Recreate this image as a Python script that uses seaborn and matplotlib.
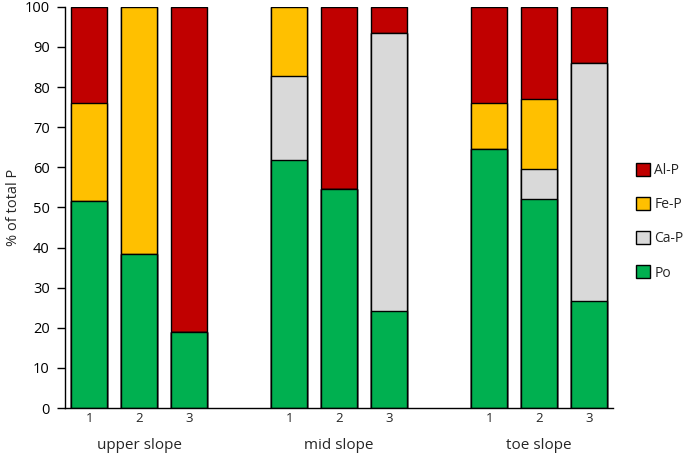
import matplotlib
matplotlib.use("Agg")
import matplotlib.pyplot as plt
from matplotlib.patches import Patch
import seaborn as sns
import pandas as pd
import numpy as np

FONT_SIZE = 10.5

groups = ["upper slope", "mid slope", "toe slope"]
profiles = ["1", "2", "3"]
po = [51.6, 38.5, 19.0, 61.8, 54.5, 24.1, 64.5, 52.2, 26.8]
ca_p = [0.0, 0.0, 0.0, 21.0, 0.0, 69.5, 0.0, 7.3, 59.3]
fe_p = [24.4, 61.5, 0.0, 17.2, 0.0, 0.0, 11.5, 17.6, 0.0]
al_p = [24.0, 0.0, 81.0, 0.0, 45.5, 6.4, 24.0, 22.9, 13.9]

fractions = ["Po", "Ca-P", "Fe-P", "Al-P"]
colors = {"Po": "#00B050", "Ca-P": "#D9D9D9", "Fe-P": "#FFC000", "Al-P": "#C00000"}

# bar slots: 3 per group, one empty slot between groups
pos = [g * 4 + i for g in range(len(groups)) for i in range(len(profiles))]
df = pd.DataFrame({"pos": pos, "Po": po, "Ca-P": ca_p, "Fe-P": fe_p, "Al-P": al_p})
cum = df[fractions].cumsum(axis=1)

sns.set_style("ticks")
plt.rcParams["font.family"] = ["Open Sans", "DejaVu Sans"]

fig = plt.figure(figsize=(6.85, 4.57), dpi=100)
ax = fig.add_axes([0.095, 0.107, 0.8, 0.878])

# draw from the top layer down so lower segments cover the upper totals
for frac in reversed(fractions):
    sns.barplot(
        x=df["pos"], y=cum[frac], native_scale=True, width=0.72,
        color=colors[frac], saturation=1, edgecolor="black", linewidth=1,
        ax=ax,
    )

ax.set_xlim(-0.48, 10.48)
ax.set_ylim(0, 100)
ax.set_yticks(np.arange(0, 101, 10))
ax.set_xticks(pos)
ax.set_xticklabels(profiles * len(groups), fontsize=FONT_SIZE - 1)
ax.tick_params(axis="x", length=0, pad=3)
ax.tick_params(axis="y", length=6, width=1, direction="out", pad=5, color="black",
               labelcolor="black", labelsize=FONT_SIZE, left=True)
ax.set_xlabel("")
ax.set_ylabel("% of total P", fontsize=FONT_SIZE, labelpad=3)
for s in ["top", "right"]:
    ax.spines[s].set_visible(False)
for s in ["left", "bottom"]:
    ax.spines[s].set_color("black")
    ax.spines[s].set_linewidth(1)

for g, name in enumerate(groups):
    ax.text(g * 4 + 1, -9.3, name, ha="center", va="center", fontsize=FONT_SIZE + 0.5,
            transform=ax.transData)

handles = [Patch(facecolor=colors[f], edgecolor="black", linewidth=1, label=f)
           for f in reversed(fractions)]
fig.legend(handles=handles, loc="center left", bbox_to_anchor=(0.928, 0.515),
           frameon=False, fontsize=FONT_SIZE - 0.5, handlelength=1.0, handleheight=1.1,
           labelspacing=1.35, handletextpad=0.35, borderpad=0, borderaxespad=0)

fig.savefig("out.png", dpi=100)
